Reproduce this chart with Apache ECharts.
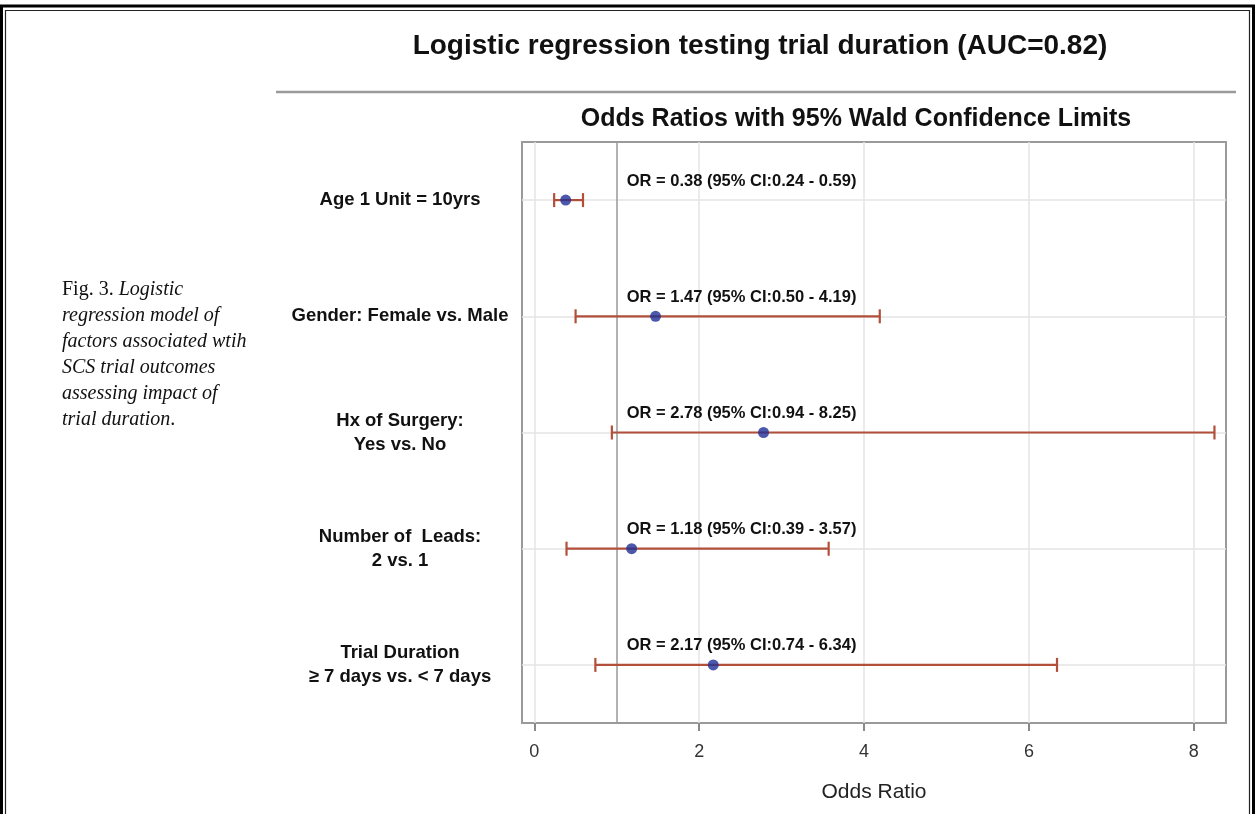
<!DOCTYPE html>
<html>
<head>
<meta charset="utf-8">
<script src="https://cdn.jsdelivr.net/npm/echarts@6/dist/echarts.min.js"></script>
<style>
  html, body { margin: 0; padding: 0; background: #fff; }
  #main { width: 1255px; height: 814px; }
</style>
</head>
<body>
<div id="main"></div>
<script>
// values
var categories = [
  'Age 1 Unit = 10yrs',
  'Gender: Female vs. Male',
  'Hx of Surgery:\nYes vs. No',
  'Number of  Leads:\n2 vs. 1',
  'Trial Duration\n\u2265 7 days vs. < 7 days'
];
var oddsRatio = [0.38, 1.47, 2.78, 1.18, 2.17];
var ciLower = [0.24, 0.50, 0.94, 0.39, 0.74];
var ciUpper = [0.59, 4.19, 8.25, 3.57, 6.34];
var xTicks = [0, 2, 4, 6, 8];
var refValue = 1;

var sans = "'Liberation Sans', Arial, Helvetica, sans-serif";
var serif = "'Liberation Serif', 'Times New Roman', serif";
var barColor = '#b24f3a';
var dotColor = '#1f3096';
var labelX = 1.12;   // where the OR text starts, in odds-ratio units

var whiskerData = [];
var pointData = [];
for (var i = 0; i < categories.length; i++) {
  whiskerData.push([i, ciLower[i], ciUpper[i], oddsRatio[i]]);
  pointData.push([oddsRatio[i], i]);
}

var gridLines = [];
xTicks.forEach(function (v) {
  gridLines.push({ xAxis: v, lineStyle: { color: '#e4e4e4', width: 1.5, type: 'solid' } });
});
categories.forEach(function (c, i) {
  gridLines.push({ yAxis: i, lineStyle: { color: '#e4e4e4', width: 1.5, type: 'solid' } });
});
gridLines.push({ xAxis: refValue, lineStyle: { color: '#999', width: 1.5, type: 'solid' } });

var chart = echarts.init(document.getElementById('main'));
chart.setOption({
  animation: false,
  backgroundColor: '#fff',
  grid: {
    left: 522, right: 29, top: 142, bottom: 91,
    show: true, borderColor: '#9a9a9a', borderWidth: 2, backgroundColor: '#fff'
  },
  xAxis: {
    type: 'value',
    min: -0.15,
    max: 8.39,
    axisLine: { show: false },
    splitLine: { show: false },
    axisTick: { show: true, customValues: xTicks, length: 8, lineStyle: { color: '#8a8a8a', width: 2 } },
    axisLabel: { customValues: xTicks, fontFamily: sans, fontSize: 18, color: '#333', margin: 20 },
    name: 'Odds Ratio',
    nameLocation: 'middle',
    nameGap: 59,
    nameTextStyle: { fontFamily: sans, fontSize: 21, color: '#222' }
  },
  yAxis: {
    type: 'category',
    data: categories,
    inverse: true,
    axisLine: { show: false },
    axisTick: { show: false },
    splitLine: { show: false },
    axisLabel: {
      fontFamily: sans, fontSize: 18.5, fontWeight: 'bold', color: '#111',
      align: 'center', margin: 122, lineHeight: 24
    }
  },
  series: [
    {
      type: 'custom',
      z: 3,
      clip: false,
      data: whiskerData,
      encode: { x: [1, 2], y: 0 },
      renderItem: function (params, api) {
        var row = api.value(0);
        var lo = api.coord([api.value(1), row]);
        var hi = api.coord([api.value(2), row]);
        var txt = api.coord([labelX, row]);
        var style = { stroke: barColor, lineWidth: 2.2 };
        var cap = 7;
        var label = 'OR = ' + api.value(3).toFixed(2) + ' (95% CI:' +
          api.value(1).toFixed(2) + ' - ' + api.value(2).toFixed(2) + ')';
        return {
          type: 'group',
          children: [
            { type: 'line', shape: { x1: lo[0], y1: lo[1], x2: hi[0], y2: hi[1] }, style: style },
            { type: 'line', shape: { x1: lo[0], y1: lo[1] - cap, x2: lo[0], y2: lo[1] + cap }, style: style },
            { type: 'line', shape: { x1: hi[0], y1: hi[1] - cap, x2: hi[0], y2: hi[1] + cap }, style: style },
            {
              type: 'text',
              x: txt[0], y: txt[1] - 19,
              style: {
                text: label, fill: '#111', font: 'bold 16.5px ' + sans,
                textAlign: 'left', textVerticalAlign: 'middle'
              }
            }
          ]
        };
      }
    },
    {
      type: 'scatter',
      z: 4,
      data: pointData,
      symbol: 'circle',
      symbolSize: 11,
      itemStyle: { color: dotColor },
      markLine: {
        silent: true,
        z: 1,
        symbol: ['none', 'none'],
        label: { show: false },
        data: gridLines
      }
    }
  ],
  graphic: [
    // double frame round the figure
    { type: 'polyline', shape: { points: [[1.5, 814], [1.5, 6], [1253.5, 6], [1253.5, 814]] },
      style: { stroke: '#000', lineWidth: 3, fill: null } },
    { type: 'polyline', shape: { points: [[5.5, 814], [5.5, 10.5], [1249.5, 10.5], [1249.5, 814]] },
      style: { stroke: '#222', lineWidth: 1.2, fill: null } },
    { type: 'text', x: 760, y: 46,
      style: { text: 'Logistic regression testing trial duration (AUC=0.82)', fill: '#111',
        font: 'bold 28px ' + sans, textAlign: 'center', textVerticalAlign: 'middle' } },
    { type: 'line', shape: { x1: 276, y1: 92, x2: 1236, y2: 92 },
      style: { stroke: '#9a9a9a', lineWidth: 2.5 } },
    { type: 'text', x: 856, y: 119,
      style: { text: 'Odds Ratios with 95% Wald Confidence Limits', fill: '#111',
        font: 'bold 25px ' + sans, textAlign: 'center', textVerticalAlign: 'middle' } },
    { type: 'text', x: 62, y: 277,
      style: {
        text: '{n|Fig. 3. }{i|Logistic}\n{i|regression model of}\n{i|factors associated wtih}\n' +
              '{i|SCS trial outcomes}\n{i|assessing impact of}\n{i|trial duration}{n|.}',
        fill: '#111',
        rich: {
          n: { fontFamily: serif, fontSize: 20, lineHeight: 26, fill: '#111' },
          i: { fontFamily: serif, fontSize: 20, fontStyle: 'italic', lineHeight: 26, fill: '#111' }
        }
      } }
  ]
});
</script>
</body>
</html>
